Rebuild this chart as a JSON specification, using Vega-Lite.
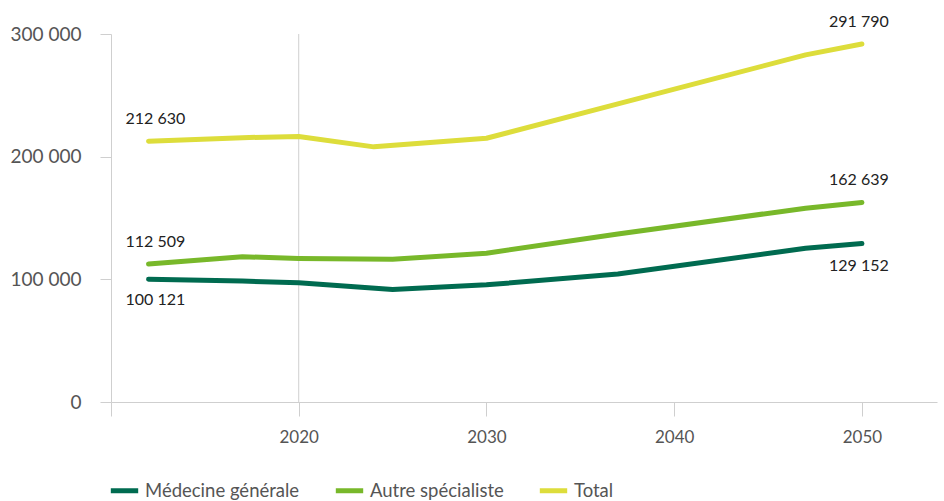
{
  "$schema": "https://vega.github.io/schema/vega-lite/v6.json",
  "width": 826,
  "height": 368,
  "autosize": "none",
  "padding": {"left": 111, "top": 34, "right": 7, "bottom": 99},
  "background": "white",
  "config": {
    "view": {"stroke": null},
    "font": "Lato",
    "locale": {"number": {"decimal": ",", "thousands": " ", "grouping": [3], "currency": ["", " €"]}}
  },
  "datasets": {
    "effectifs": [
      {"year": 2012, "series": "Médecine générale", "value": 100121},
      {"year": 2017, "series": "Médecine générale", "value": 98600},
      {"year": 2020, "series": "Médecine générale", "value": 97300},
      {"year": 2025, "series": "Médecine générale", "value": 91800},
      {"year": 2030, "series": "Médecine générale", "value": 95500},
      {"year": 2037, "series": "Médecine générale", "value": 104300},
      {"year": 2047, "series": "Médecine générale", "value": 125300},
      {"year": 2050, "series": "Médecine générale", "value": 129152},
      {"year": 2012, "series": "Autre spécialiste", "value": 112509},
      {"year": 2017, "series": "Autre spécialiste", "value": 118400},
      {"year": 2020, "series": "Autre spécialiste", "value": 117000},
      {"year": 2025, "series": "Autre spécialiste", "value": 116300},
      {"year": 2030, "series": "Autre spécialiste", "value": 121300},
      {"year": 2037, "series": "Autre spécialiste", "value": 137000},
      {"year": 2047, "series": "Autre spécialiste", "value": 158000},
      {"year": 2050, "series": "Autre spécialiste", "value": 162639},
      {"year": 2012, "series": "Total", "value": 212630},
      {"year": 2017, "series": "Total", "value": 215500},
      {"year": 2020, "series": "Total", "value": 216500},
      {"year": 2024, "series": "Total", "value": 208000},
      {"year": 2030, "series": "Total", "value": 215000},
      {"year": 2037, "series": "Total", "value": 243000},
      {"year": 2047, "series": "Total", "value": 283000},
      {"year": 2050, "series": "Total", "value": 291790}
    ],
    "reference": [{"year": 2020}]
  },
  "data": {"name": "effectifs"},
  "encoding": {
    "x": {
      "field": "year",
      "type": "quantitative",
      "scale": {"domain": [2010, 2054], "nice": false, "zero": false},
      "axis": {
        "title": null,
        "values": [2010, 2020, 2030, 2040, 2050],
        "format": "d",
        "labelExpr": "datum.value == 2010 ? '' : datum.label",
        "grid": false,
        "domainColor": "#cfcfcf",
        "tickColor": "#cfcfcf",
        "tickSize": 14,
        "labelPadding": 13,
        "labelFontSize": 17,
        "labelColor": "#555555",
        "labelFont": "Lato"
      }
    }
  },
  "layer": [
    {
      "data": {"name": "reference"},
      "mark": {"type": "rule", "color": "#cfcfcf", "strokeWidth": 1},
      "encoding": {"x": {"field": "year", "type": "quantitative"}}
    },
    {
      "mark": {"type": "line", "strokeWidth": 5, "strokeCap": "round", "strokeJoin": "round"},
      "encoding": {
        "y": {
          "field": "value",
          "type": "quantitative",
          "scale": {"domain": [0, 300000], "nice": false},
          "axis": {
            "title": null,
            "values": [0, 100000, 200000, 300000],
            "format": ",d",
            "grid": false,
            "domainColor": "#cfcfcf",
            "tickColor": "#cfcfcf",
            "tickSize": 11,
            "labelPadding": 19,
            "labelFontSize": 19,
            "labelColor": "#555555",
            "labelFont": "Lato"
          }
        },
        "color": {
          "field": "series",
          "type": "nominal",
          "scale": {
            "domain": ["Médecine générale", "Autre spécialiste", "Total"],
            "range": ["#006b50", "#78b82a", "#dddd3b"]
          },
          "legend": {
            "title": null,
            "orient": "none",
            "direction": "horizontal",
            "legendX": -3,
            "legendY": 440,
            "symbolType": "stroke",
            "symbolStrokeWidth": 5,
            "symbolSize": 750,
            "labelFontSize": 18.5,
            "labelColor": "#555555",
            "labelFont": "Lato",
            "labelOffset": 4,
            "columnPadding": 25
          }
        }
      }
    },
    {
      "transform": [{"filter": "datum.year == 2012 && datum.series != 'Médecine générale'"}],
      "mark": {"type": "text", "align": "left", "dx": -23, "dy": -22, "fontSize": 16, "color": "#222222"},
      "encoding": {
        "y": {"field": "value", "type": "quantitative"},
        "text": {"field": "value", "type": "quantitative", "format": ",d"}
      }
    },
    {
      "transform": [{"filter": "datum.year == 2012 && datum.series == 'Médecine générale'"}],
      "mark": {"type": "text", "align": "left", "dx": -23, "dy": 21, "fontSize": 16, "color": "#222222"},
      "encoding": {
        "y": {"field": "value", "type": "quantitative"},
        "text": {"field": "value", "type": "quantitative", "format": ",d"}
      }
    },
    {
      "transform": [{"filter": "datum.year == 2050 && datum.series != 'Médecine générale'"}],
      "mark": {"type": "text", "align": "center", "dx": -3, "dy": -22, "fontSize": 16, "color": "#222222"},
      "encoding": {
        "y": {"field": "value", "type": "quantitative"},
        "text": {"field": "value", "type": "quantitative", "format": ",d"}
      }
    },
    {
      "transform": [{"filter": "datum.year == 2050 && datum.series == 'Médecine générale'"}],
      "mark": {"type": "text", "align": "center", "dx": -3, "dy": 22, "fontSize": 16, "color": "#222222"},
      "encoding": {
        "y": {"field": "value", "type": "quantitative"},
        "text": {"field": "value", "type": "quantitative", "format": ",d"}
      }
    }
  ]
}
